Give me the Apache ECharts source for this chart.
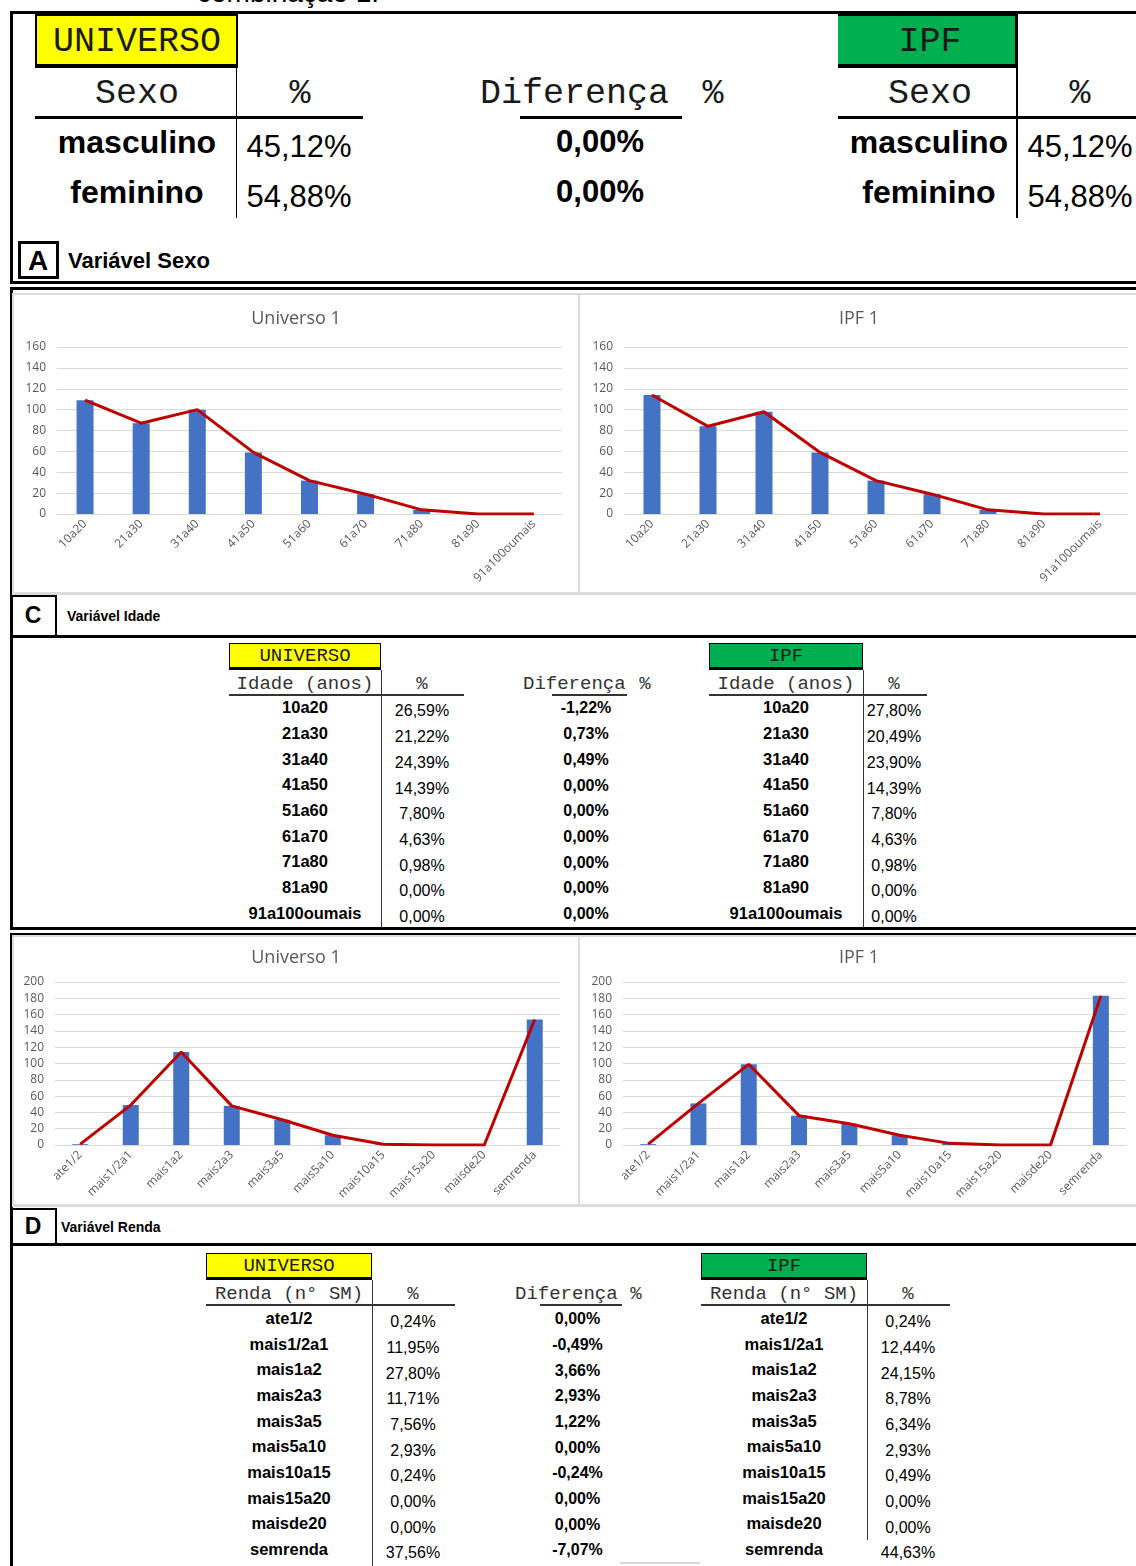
<!DOCTYPE html>
<html>
<head>
<meta charset="utf-8">
<script src="https://cdn.jsdelivr.net/npm/echarts@6/dist/echarts.min.js"></script>
<style>
  html, body { margin:0; padding:0; background:#fff; }
  body { width:1136px; height:1566px; position:relative; overflow:hidden; font-family:"Liberation Sans", Arial, sans-serif; }
  .box { position:absolute; box-sizing:border-box; }
  .t { position:absolute; white-space:nowrap; }
</style>
</head>
<body>
<script>
// ---------- DATA ----------
const ageCategories = ['10a20','21a30','31a40','41a50','51a60','61a70','71a80','81a90','91a100oumais'];
const ageUniverso = [109, 87, 100, 59, 32, 19, 4, 0, 0];
const ageIPF = [114, 84, 98, 59, 32, 19, 4, 0, 0];
const ageTicks = { min: 0, max: 160, interval: 20 };

const rendaCategories = ['ate1/2','mais1/2a1','mais1a2','mais2a3','mais3a5','mais5a10','mais10a15','mais15a20','maisde20','semrenda'];
const rendaUniverso = [1, 49, 114, 48, 31, 12, 1, 0, 0, 154];
const rendaIPF = [1, 51, 99, 36, 26, 12, 2, 0, 0, 183];
const rendaTicks = { min: 0, max: 200, interval: 20 };

const sexoLabels = ['masculino','feminino'];
const sexoUniversoPct = ['45,12%','54,88%'];
const sexoDiff = ['0,00%','0,00%'];
const sexoIPFPct = ['45,12%','54,88%'];

const idadeUniversoPct = ['26,59%','21,22%','24,39%','14,39%','7,80%','4,63%','0,98%','0,00%','0,00%'];
const idadeDiff = ['-1,22%','0,73%','0,49%','0,00%','0,00%','0,00%','0,00%','0,00%','0,00%'];
const idadeIPFPct = ['27,80%','20,49%','23,90%','14,39%','7,80%','4,63%','0,98%','0,00%','0,00%'];

const rendaUniversoPct = ['0,24%','11,95%','27,80%','11,71%','7,56%','2,93%','0,24%','0,00%','0,00%','37,56%'];
const rendaDiff = ['0,00%','-0,49%','3,66%','2,93%','1,22%','0,00%','-0,24%','0,00%','0,00%','-7,07%'];
const rendaIPFPct = ['0,24%','12,44%','24,15%','8,78%','6,34%','2,93%','0,49%','0,00%','0,00%','44,63%'];

// ---------- HELPERS ----------
function box(l, t, w, h, css) {
  const d = document.createElement('div');
  d.className = 'box';
  d.style.left = l + 'px'; d.style.top = t + 'px';
  d.style.width = w + 'px'; d.style.height = h + 'px';
  Object.assign(d.style, css || {});
  document.body.appendChild(d);
  return d;
}
function hline(x1, x2, y, th, color) { return box(x1, y, x2 - x1, th, { background: color || '#000' }); }
function vline(x, y1, y2, th, color) { return box(x, y1, th, y2 - y1, { background: color || '#000' }); }
function ctext(txt, cx, cy, size, css) {
  const d = document.createElement('div');
  d.className = 't';
  d.textContent = txt;
  d.style.left = (cx - 300) + 'px'; d.style.width = '600px';
  d.style.textAlign = 'center';
  d.style.fontSize = size + 'px';
  d.style.lineHeight = (size * 1.2) + 'px';
  d.style.top = (cy - size * 0.6) + 'px';
  Object.assign(d.style, css || {});
  document.body.appendChild(d);
  return d;
}
function ltext(txt, x, cy, size, css) {
  const d = document.createElement('div');
  d.className = 't';
  d.textContent = txt;
  d.style.left = x + 'px';
  d.style.fontSize = size + 'px';
  d.style.lineHeight = (size * 1.2) + 'px';
  d.style.top = (cy - size * 0.6) + 'px';
  Object.assign(d.style, css || {});
  document.body.appendChild(d);
  return d;
}
const MONO = { fontFamily: '"Liberation Mono","Courier New",monospace', color: '#1a1a1a' };
const BOLD = { fontWeight: 'bold' };

// ---------- TOP CUT TEXT ----------
ltext('combinação 1:', 197, -7, 28, {});

// ---------- SECTION BORDERS ----------
box(10, 11, 1140, 273, { border: '3px solid #000' });
box(10, 287, 1140, 643, { border: '3px solid #000' });
box(10, 933, 1140, 700, { border: '3px solid #000' });

// ---------- SECTION A: Sexo table ----------
box(35, 14, 203, 54, { background: '#ffff00', borderTop: '2px solid #000', borderLeft: '2px solid #000', borderRight: '2px solid #000', borderBottom: '4px solid #000' });
ctext('UNIVERSO', 137, 42, 35, MONO);
box(838, 14, 180, 54, { background: '#00b050', borderTop: '2px solid #000', borderRight: '3px solid #000', borderBottom: '4px solid #000' });
ctext('IPF', 930, 42, 35, MONO);
ctext('Sexo', 137, 94, 35, MONO);
ctext('%', 300, 94, 35, MONO);
ltext('Diferença', 480, 94, 35, MONO);
ctext('%', 713, 94, 35, MONO);
ctext('Sexo', 930, 94, 35, MONO);
ctext('%', 1080, 94, 35, MONO);
hline(35, 363, 116, 3);
hline(520, 682, 116, 3);
hline(838, 1136, 116, 3);
vline(236, 68, 218, 1);
vline(1016, 68, 218, 2);
sexoLabels.forEach((lab, i) => {
  const cy = 142 + i * 50;
  ctext(lab, 137, cy, 32, BOLD);
  ctext(sexoUniversoPct[i], 299, cy + 5, 31, {});
  ctext(sexoDiff[i], 600, cy, 31, BOLD);
  ctext(lab, 929, cy, 32, BOLD);
  ctext(sexoIPFPct[i], 1080, cy + 5, 31, {});
});
box(18, 241, 41, 38, { border: '3px solid #000' });
ctext('A', 38, 261, 28, BOLD);
ltext('Variável Sexo', 68, 261, 22, BOLD);

// ---------- SECTION C label ----------
hline(12, 1136, 594, 1, '#d9d9d9');
box(12, 595, 45, 42, { borderRight: '2px solid #000', borderTop: '2px solid #000' });
ctext('C', 33, 616, 23, BOLD);
ltext('Variável Idade', 67, 616, 14, BOLD);
hline(12, 1136, 635, 3);

// ---------- TABLE BUILDER ----------
function bigTable(cfg) {
  const { uL, uR, iL, iR, top, headTxt, headY, uLabX, uPctX, dLeft, dPctX, dLine, iLabX, iPctX, lineY, uLineR, iLineR, vUx, vIx, vEnd, vIEnd, rowY0, rowStep, labels, uP, dP, iP, labSize } = cfg;
  box(uL, top, uR - uL, 27, { background: '#ffff00', border: '1px solid #000', borderBottom: '3px solid #000' });
  ctext('UNIVERSO', (uL + uR) / 2, top + 13, 19, MONO);
  box(iL, top, iR - iL, 27, { background: '#00b050', border: '1px solid #000', borderBottom: '3px solid #000' });
  ctext('IPF', (iL + iR) / 2, top + 13, 19, MONO);
  const hc = { fontFamily: MONO.fontFamily, color: '#333' };
  ctext(headTxt, uLabX, headY, 19, hc);
  ctext('%', uPctX, headY, 19, hc);
  ltext('Diferença', dLeft, headY, 19, hc);
  ctext('%', dPctX, headY, 19, hc);
  ctext(headTxt, iLabX, headY, 19, hc);
  ctext('%', iPctX, headY, 19, hc);
  hline(uL, uLineR, lineY, 2, '#333');
  hline(dLine[0], dLine[1], lineY, 2, '#333');
  hline(iL, iLineR, lineY, 2, '#333');
  vline(vUx, top + 27, vEnd, 1, '#333');
  vline(vIx, top + 27, vIEnd, 1, '#333');
  labels.forEach((lab, i) => {
    const cy = rowY0 + i * rowStep;
    ctext(lab, uLabX, cy, labSize, BOLD);
    ctext(uP[i], uPctX, cy + 3, 16, {});
    ctext(dP[i], (dLeft + dPctX) / 2 + 2, cy, 16, BOLD);
    ctext(lab, iLabX, cy, labSize, BOLD);
    ctext(iP[i], iPctX, cy + 3, 16, {});
  });
}
bigTable({
  uL: 229, uR: 381, iL: 709, iR: 863, top: 643, headTxt: 'Idade (anos)', headY: 684,
  uLabX: 305, uPctX: 422, dLeft: 523, dPctX: 645, dLine: [552, 627], iLabX: 786, iPctX: 894,
  lineY: 694, uLineR: 464, iLineR: 927, vUx: 381, vIx: 863, vEnd: 928, vIEnd: 928,
  rowY0: 708, rowStep: 25.7, labels: ageCategories, uP: idadeUniversoPct, dP: idadeDiff, iP: idadeIPFPct, labSize: 16.5
});

// ---------- SECTION D label ----------
hline(12, 1136, 1206, 1, '#d9d9d9');
box(12, 1208, 45, 37, { borderRight: '2px solid #000', borderTop: '2px solid #000' });
ctext('D', 33, 1227, 23, BOLD);
ltext('Variável Renda', 61, 1227, 14, BOLD);
hline(12, 1136, 1243, 3);

bigTable({
  uL: 206, uR: 372, iL: 701, iR: 867, top: 1253, headTxt: 'Renda (n° SM)', headY: 1294,
  uLabX: 289, uPctX: 413, dLeft: 515, dPctX: 636, dLine: [540, 622], iLabX: 784, iPctX: 908,
  lineY: 1304, uLineR: 455, iLineR: 950, vUx: 372, vIx: 867, vEnd: 1566, vIEnd: 1540,
  rowY0: 1319, rowStep: 25.65, labels: rendaCategories, uP: rendaUniversoPct, dP: rendaDiff, iP: rendaIPFPct, labSize: 16.5
});
hline(620, 700, 1562, 2, '#d9d9d9');

// ---------- CHARTS ----------
const CF = '"Open Sans","Noto Sans",sans-serif';
function makeChart(pos, title, cats, vals, ticks, g, titleTop, barW) {
  const el = box(pos[0], pos[1], pos[2], pos[3], {});
  const chart = echarts.init(el, null, { renderer: 'canvas' });
  chart.setOption({
    animation: false,
    title: { text: title, left: 'center', top: titleTop,
      textStyle: { fontFamily: CF, fontSize: 18, fontWeight: 'normal', color: '#595959' } },
    grid: { left: g[0], right: g[1], top: g[2], bottom: g[3], containLabel: false },
    xAxis: { type: 'category', data: cats,
      axisTick: { show: false },
      axisLine: { lineStyle: { color: '#d9d9d9', width: 1 } },
      axisLabel: { rotate: 45, interval: 0, fontSize: 12, color: '#595959', margin: 8, fontFamily: CF } },
    yAxis: { type: 'value', min: ticks.min, max: ticks.max, interval: ticks.interval,
      axisLine: { show: false }, axisTick: { show: false },
      splitLine: { lineStyle: { color: '#d9d9d9', width: 1 } },
      axisLabel: { fontSize: 12, color: '#595959', margin: 11, fontFamily: CF } },
    series: [
      { type: 'bar', data: vals, barWidth: barW, itemStyle: { color: '#4472c4' } },
      { type: 'line', data: vals, symbol: 'none', lineStyle: { color: '#c00000', width: 3 }, z: 5 }
    ]
  });
  box(pos[0], pos[1], pos[2], pos[3], { border: '2px solid #dcdcdc', pointerEvents: 'none' });
}
makeChart([12, 293, 568, 301], 'Universo 1', ageCategories, ageUniverso, ageTicks, [45, 18, 54, 80], 12, 17);
makeChart([578, 293, 562, 301], 'IPF 1', ageCategories, ageIPF, ageTicks, [46, 12, 54, 80], 12, 17);
makeChart([12, 935, 568, 271], 'Universo 1', rendaCategories, rendaUniverso, rendaTicks, [43, 20, 47, 61], 9, 16);
makeChart([578, 935, 562, 271], 'IPF 1', rendaCategories, rendaIPF, rendaTicks, [45, 14, 47, 61], 9, 16);
</script>
</body>
</html>
